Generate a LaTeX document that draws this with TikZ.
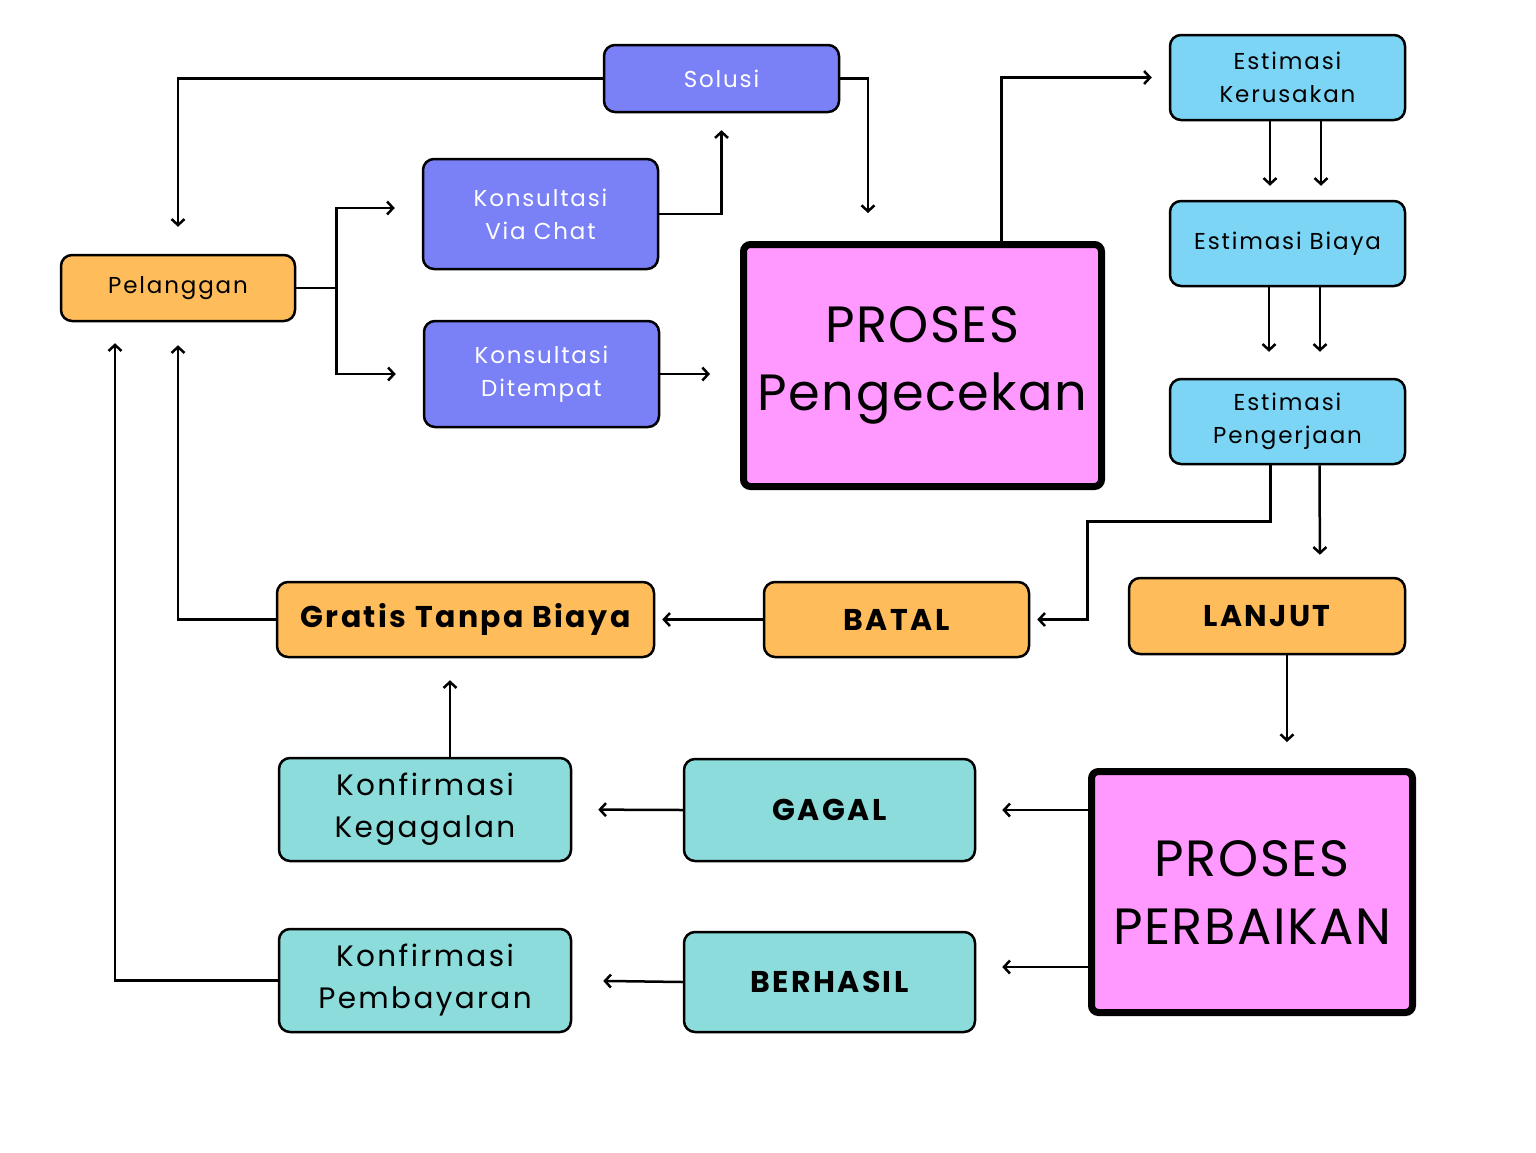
\documentclass[tikz,border=0pt]{standalone}
\usepackage{fontspec}
\newfontfamily\canva[LetterSpace=8]{Poppins}
\newfontfamily\canvajudul[LetterSpace=3]{Poppins}
\usetikzlibrary{arrows.meta,positioning}

\definecolor{ungu}{HTML}{7A80F6}
\definecolor{oranye}{HTML}{FFBC5A}
\definecolor{pink}{HTML}{FF99FF}
\definecolor{biru}{HTML}{7DD5F6}
\definecolor{tosca}{HTML}{8CDCDC}

\tikzset{
  kotak/.style={draw, line width=2.5pt, rounded corners=11pt, align=center, inner sep=0pt},
  tebal/.style={draw, line width=7pt, rounded corners=7pt, align=center, inner sep=0pt, fill=pink,
    font=\canvajudul\fontsize{51}{68}\selectfont},
  kecil/.style={font=\canva\fontsize{23}{33}\selectfont},
  sedang/.style={font=\canva\fontsize{29.5}{42}\selectfont},
  tegas/.style={font=\canva\bfseries\fontsize{30}{40}\selectfont},
  panah/.style={-{Straight Barb[length=6pt,width=13pt]}, line width=2.5pt},
  garis/.style={line width=2.5pt}
}

\begin{document}
\begin{tikzpicture}[x=1pt,y=-1pt]
\useasboundingbox (0,0) rectangle (1536,1152);

% baris atas
\node[kotak, kecil, fill=oranye, minimum width=234pt, minimum height=66pt] (pelanggan) at (178,288) {Pelanggan};
\node[kotak, kecil, fill=ungu, text=white, minimum width=235pt, minimum height=67pt] (solusi) at (721.5,78.5) {Solusi};
\node[kotak, kecil, fill=ungu, text=white, minimum width=235pt, minimum height=110pt] (chat) at (540.5,214) {Konsultasi\\Via Chat};
\node[kotak, kecil, fill=ungu, text=white, minimum width=235pt, minimum height=106pt] (tempat) at (541.5,374) {Konsultasi\\Ditempat};
\node[tebal, minimum width=358pt, minimum height=242pt] (cek) at (922.5,365.5) {PROSES\\Pengecekan};

% estimasi
\node[kotak, kecil, fill=biru, minimum width=235pt, minimum height=85pt] (kerusakan) at (1287.5,77.5) {Estimasi\\Kerusakan};
\node[kotak, kecil, fill=biru, minimum width=235pt, minimum height=85pt] (biaya) at (1287.5,243.5) {Estimasi Biaya};
\node[kotak, kecil, fill=biru, minimum width=235pt, minimum height=85pt] (pengerjaan) at (1287.5,421.5) {Estimasi\\Pengerjaan};

% keputusan
\node[kotak, tegas, fill=oranye, minimum width=276pt, minimum height=76pt] (lanjut) at (1267,616) {LANJUT};
\node[kotak, tegas, fill=oranye, minimum width=265pt, minimum height=75pt] (batal) at (896.5,619.5) {BATAL};
\node[kotak, tegas, fill=oranye, minimum width=377pt, minimum height=75pt] (gratis) at (465.5,619.5) {Gratis Tanpa Biaya};

% perbaikan
\node[tebal, minimum width=321pt, minimum height=241pt] (perbaikan) at (1252,892) {PROSES\\PERBAIKAN};
\node[kotak, tegas, fill=tosca, minimum width=291pt, minimum height=102pt] (gagal) at (829.5,810) {GAGAL};
\node[kotak, tegas, fill=tosca, minimum width=291pt, minimum height=100pt] (berhasil) at (829.5,982) {BERHASIL};
\node[kotak, sedang, fill=tosca, minimum width=292pt, minimum height=103pt] (kgagal) at (425,809.5) {Konfirmasi\\Kegagalan};
\node[kotak, sedang, fill=tosca, minimum width=292pt, minimum height=103pt] (kbayar) at (425,980.5) {Konfirmasi\\Pembayaran};

% alur
\draw[panah, shorten >=27pt] (solusi.west) -| (pelanggan.north);
\draw[panah, shorten >=28pt] (solusi.east) -| ([xshift=-54.5pt]cek.north);
\draw[panah, shorten >=17pt] (chat.east) -| (solusi.south);
\draw[garis] (pelanggan.east) -- ++(40,0) coordinate (cabang);
\draw[panah, shorten >=27pt] (cabang) |- ([yshift=6pt]chat.west);
\draw[panah, shorten >=27pt] (cabang) |- (tempat.west);
\draw[panah, shorten >=30pt] (tempat.east) -- (cek.west |- tempat.east);
\draw[panah, shorten >=17pt] ([xshift=79pt]cek.north) |- (kerusakan.west);
\draw[panah, shorten >=14pt] ([xshift=-17.5pt]kerusakan.south) -- ([xshift=-17.5pt]biaya.north);
\draw[panah, shorten >=14pt] ([xshift=33.5pt]kerusakan.south) -- ([xshift=33.5pt]biaya.north);
\draw[panah, shorten >=26pt] ([xshift=-18.5pt]biaya.south) -- ([xshift=-18.5pt]pengerjaan.north);
\draw[panah, shorten >=26pt] ([xshift=32.5pt]biaya.south) -- ([xshift=32.5pt]pengerjaan.north);
\draw[panah, shorten >=7pt] ([xshift=-17pt]pengerjaan.south) -- ++(0,56) -| ([xshift=57pt]batal.east) -- (batal.east);
\draw[panah, shorten >=22pt] ([xshift=32pt]pengerjaan.south) -- ([xshift=53pt]lanjut.north);
\draw[panah, shorten >=26pt] ([xshift=20pt]lanjut.south) -- ([xshift=35pt]perbaikan.north);
\draw[panah, shorten >=7pt] (batal.west) -- (gratis.east);
\draw[panah, shorten >=23pt] (gratis.west) -| (pelanggan.south);
\draw[panah, shorten >=22pt] ([xshift=25pt]kgagal.north) -- ([xshift=25pt]kgagal.north |- gratis.south);
\draw[panah, shorten >=26pt] (gagal.west) -- (kgagal.east);
\draw[panah, shorten >=26pt] (perbaikan.west |- gagal.east) -- (gagal.east);
\draw[panah, shorten >=26pt] ([yshift=-75pt]perbaikan.west) -- ([yshift=-75pt]perbaikan.west -| berhasil.east);
\draw[panah, shorten >=31pt] (berhasil.west) -- (kbayar.east);
\draw[panah, shorten >=21pt] (kbayar.west) -| ([xshift=-63pt]pelanggan.south);
\end{tikzpicture}
\end{document}
